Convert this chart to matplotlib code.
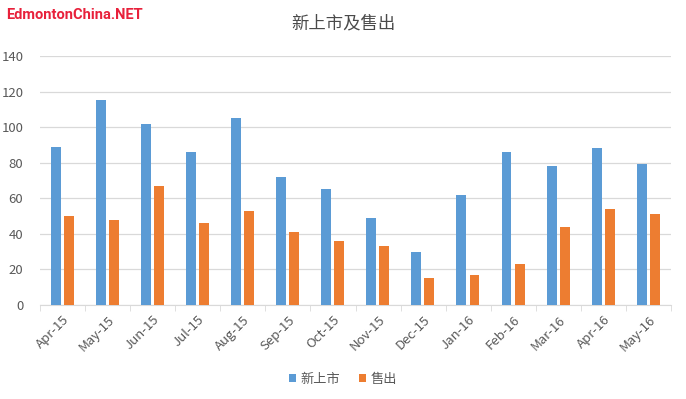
import matplotlib.pyplot as plt
import numpy as np

plt.rcParams['font.family'] = ['Noto Sans CJK SC', 'DejaVu Sans']

months = ['Apr-15', 'May-15', 'Jun-15', 'Jul-15', 'Aug-15', 'Sep-15', 'Oct-15',
          'Nov-15', 'Dec-15', 'Jan-16', 'Feb-16', 'Mar-16', 'Apr-16', 'May-16']
new_listings = [89, 115, 102, 86, 105, 72, 65, 49, 30, 62, 86, 78, 88, 79]
sold = [50, 48, 67, 46, 53, 41, 36, 33, 15, 17, 23, 44, 54, 51]

blue = '#5B9BD5'
orange = '#ED7D31'
grey = '#595959'

fig = plt.figure(figsize=(6.86, 3.99), dpi=100)
ax = fig.add_axes([40 / 686, 1 - 305 / 399, 631 / 686, 249 / 399])

x = np.arange(len(months))
w = 0.22
ax.bar(x - 0.15, new_listings, w, color=blue, label='新上市', zorder=3)
ax.bar(x + 0.14, sold, w, color=orange, label='售出', zorder=3)

ax.set_xlim(-0.5, len(months) - 0.5)
ax.set_ylim(0, 140)
ax.set_yticks(range(0, 141, 20))
ax.yaxis.grid(True, color='#D9D9D9', linewidth=0.9, zorder=0)
ax.tick_params(axis='y', length=0, labelsize=9.5, labelcolor=grey, pad=12)

ax.set_xticks(x)
ax.set_xticklabels(months, rotation=45, ha='right', rotation_mode='anchor')
ax.set_xticks(np.arange(-0.5, len(months), 1), minor=True)
ax.tick_params(axis='x', which='major', length=0, labelsize=9.5, labelcolor=grey, pad=6)
ax.tick_params(axis='x', which='minor', length=4, color='#D9D9D9')

for s in ['top', 'right', 'left']:
    ax.spines[s].set_visible(False)
ax.spines['bottom'].set_color('#D9D9D9')

fig.text(0.5, 1 - 23 / 399, '新上市及售出', ha='center', va='center',
         fontsize=12.5, color='#4a4a4a')
fig.text(6 / 686, 1 - 15 / 399, 'EdmontonChina.NET', ha='left', va='center',
         fontsize=10.5, color='#E8213B', fontweight='bold', fontstretch='condensed',
         family=['Roboto', 'DejaVu Sans'])

fig.legend(loc='center', bbox_to_anchor=(0.5, 1 - 379 / 399), ncol=2, frameon=False,
           fontsize=9.5, labelcolor=grey, handlelength=0.55, handleheight=0.55,
           handletextpad=0.35, columnspacing=1.4)

fig.savefig('out.png', dpi=100)
